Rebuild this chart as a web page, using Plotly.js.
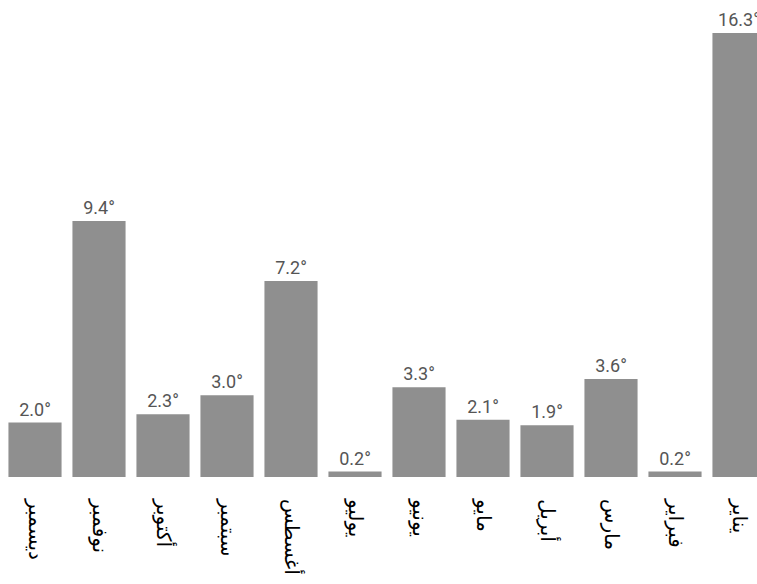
<!DOCTYPE html>
<html>
<head>
<meta charset="utf-8">
<script src="https://cdn.plot.ly/plotly-3.0.1.min.js"></script>
<style>
html,body{margin:0;padding:0;overflow:hidden;background:#fff;width:757px;height:584px;}
#chart{width:771px;height:584px;}
</style>
</head>
<body>
<div id="chart"></div>
<script>
const months = ['يناير','فبراير','مارس','أبريل','مايو','يونيو','يوليو','أغسطس','سبتمبر','أكتوبر','نوفمبر','ديسمبر'];
const values = [16.3, 0.2, 3.6, 1.9, 2.1, 3.3, 0.2, 7.2, 3.0, 2.3, 9.4, 2.0];

const trace = {
  type: 'bar',
  x: months,
  y: values,
  marker: {color: '#8f8f8f'},
  texttemplate: '%{y:.1f}°',
  textposition: 'outside',
  cliponaxis: false,
  textfont: {family: 'Roboto, sans-serif', size: 18, color: '#555555'},
  hoverinfo: 'skip'
};

const layout = {
  width: 771,
  height: 584,
  margin: {l: 2.5, r: 0, t: 20, b: 107},
  paper_bgcolor: '#ffffff',
  plot_bgcolor: '#ffffff',
  bargap: 0.17,
  showlegend: false,
  xaxis: {
    type: 'category',
    autorange: 'reversed',
    tickangle: 90,
    showgrid: false,
    zeroline: false,
    showline: false,
    ticks: '',
    ticklabelstandoff: 21,
    tickfont: {family: 'DejaVu Sans, sans-serif', size: 20, color: '#000000'}
  },
  yaxis: {
    range: [0, 16.78],
    showgrid: false,
    zeroline: false,
    showline: false,
    showticklabels: false,
    ticks: ''
  }
};

Plotly.newPlot('chart', [trace], layout, {displayModeBar: false, staticPlot: true});
</script>
</body>
</html>
